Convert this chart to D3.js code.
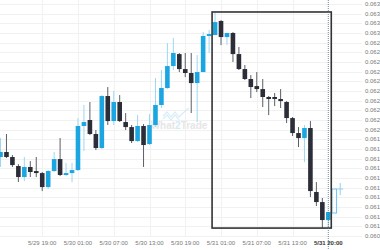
<!DOCTYPE html>
<html>
<head>
<meta charset="utf-8">
<script src="https://cdn.jsdelivr.net/npm/d3@7"></script>
<style>
  body { margin: 0; background: #fff; }
  svg { display: block; font-family: "Liberation Sans", Arial, sans-serif; }
</style>
</head>
<body>
<div id="main"></div>
<script>
const ctx = {
    w: 380,
    h: 250,
    UP: "#1ba6e2",
    UP_WICK: "#9ed6f2",
    DOWN: "#2b2e38",
    DOWN_WICK: "#5c5f66",
    GRID: "#f1f1f1",
    bodyW: 4.6,
};

// hourly candles
const opens = [0.061217, 0.061269, 0.061217, 0.061124, 0.061010, 0.061114, 0.061072, 0.061051, 0.060906, 0.061072,
    0.061196, 0.061031, 0.061051, 0.061082, 0.061538, 0.061600, 0.061455, 0.061310, 0.061848, 0.061589,
    0.061786, 0.061579, 0.061527, 0.061382, 0.061538, 0.061351, 0.061548, 0.061755, 0.061931, 0.062158,
    0.062282, 0.062127, 0.062086, 0.061982, 0.062096, 0.062469, 0.062479, 0.062624, 0.062458, 0.062500,
    0.062282, 0.062127, 0.062024, 0.061951, 0.061920, 0.061838, 0.061838, 0.061817, 0.061786, 0.061620,
    0.061465, 0.061413, 0.061517, 0.060855, 0.060751, 0.060565];
const highs = [0.061413, 0.061455, 0.061238, 0.061144, 0.061217, 0.061175, 0.061217, 0.061062, 0.061082, 0.061269,
    0.061413, 0.061155, 0.061155, 0.061620, 0.061755, 0.061786, 0.061496, 0.061858, 0.061941, 0.061900,
    0.061858, 0.061672, 0.061548, 0.061651, 0.061558, 0.061662, 0.062034, 0.062117, 0.062396, 0.062448,
    0.062293, 0.062293, 0.062293, 0.062272, 0.062510, 0.062531, 0.062707, 0.062634, 0.062500, 0.062510,
    0.062355, 0.062169, 0.062065, 0.062096, 0.062024, 0.061848, 0.061879, 0.061920, 0.061796, 0.061631,
    0.061527, 0.061548, 0.061589, 0.060958, 0.060793, 0.060648];
const lows = [0.061114, 0.061206, 0.061114, 0.060958, 0.060969, 0.061010, 0.061010, 0.060865, 0.060886, 0.061062,
    0.061020, 0.061020, 0.060958, 0.061072, 0.061279, 0.061444, 0.061289, 0.061300, 0.061548, 0.061548,
    0.061579, 0.061496, 0.061362, 0.061372, 0.061114, 0.061341, 0.061527, 0.061724, 0.061920, 0.062117,
    0.062096, 0.062044, 0.061672, 0.061579, 0.062096, 0.062293, 0.062479, 0.062375, 0.062375, 0.062200,
    0.062117, 0.062013, 0.061827, 0.061889, 0.061734, 0.061651, 0.061744, 0.061724, 0.061569, 0.061434,
    0.061320, 0.061165, 0.060803, 0.060710, 0.060482, 0.060482];
const closes = [0.061269, 0.061217, 0.061134, 0.061010, 0.061114, 0.061062, 0.061051, 0.060906, 0.061072, 0.061196,
    0.061031, 0.061051, 0.061082, 0.061538, 0.061579, 0.061455, 0.061310, 0.061848, 0.061589, 0.061786,
    0.061589, 0.061527, 0.061382, 0.061538, 0.061341, 0.061548, 0.061755, 0.061931, 0.062158, 0.062293,
    0.062127, 0.062086, 0.061982, 0.062096, 0.062469, 0.062489, 0.062613, 0.062458, 0.062500, 0.062282,
    0.062127, 0.062024, 0.061941, 0.061920, 0.061838, 0.061817, 0.061817, 0.061796, 0.061620, 0.061465,
    0.061413, 0.061517, 0.060865, 0.060751, 0.060565, 0.060648];

// forming candle and last price marker
const liveCandle = { open: 0.060638, close: 0.060886 };
const liveMarker = { high: 0.060948, low: 0.060824, value: 0.060886 };

// highlighted range (candle indices)
const boxRange = [36, 55];

const yTicks = [0.0604, 0.0605, 0.0606, 0.0607, 0.0608, 0.0609, 0.0610, 0.0611, 0.0612, 0.0613,
    0.0614, 0.0615, 0.0616, 0.0617, 0.0618, 0.0619, 0.0620, 0.0621, 0.0622, 0.0623,
    0.0624, 0.0625, 0.0626, 0.0627, 0.0628];
const yLabels = ["0.060", "0.061", "0.061", "0.061", "0.061", "0.061", "0.061", "0.061", "0.061", "0.061",
    "0.061", "0.062", "0.062", "0.062", "0.062", "0.062", "0.062", "0.062", "0.062", "0.062",
    "0.062", "0.063", "0.063", "0.063", "0.063"];

const xLabelIdx = [7, 13, 19, 25, 31, 37, 43, 49, 55];
const xLabels = ["5/29 19:00", "5/30 01:00", "5/30 07:00", "5/30 13:00", "5/30 19:00",
    "5/31 01:00", "5/31 07:00", "5/31 13:00", "5/31 20:00"];

function createViz() {
    let svgEl = d3.select("#main").append("svg")
        .attr("width", ctx.w)
        .attr("height", ctx.h);

    let x = d3.scaleLinear().domain([0, 55]).range([0.5, 328.3]);
    let step = x(1) - x(0);
    let y = d3.scaleLinear().domain([0.0604, 0.0628]).range([236, 4]);

    // grid
    let gridG = svgEl.append("g");
    gridG.selectAll("line.h")
        .data(yTicks)
        .enter()
        .append("line")
        .attr("x1", 0)
        .attr("x2", 362)
        .attr("y1", (d) => Math.round(y(d)) + 0.5)
        .attr("y2", (d) => Math.round(y(d)) + 0.5)
        .attr("stroke", ctx.GRID);
    gridG.selectAll("line.v")
        .data(xLabelIdx.slice(0, -1))
        .enter()
        .append("line")
        .attr("x1", (d) => Math.round(x(d)) + 0.5)
        .attr("x2", (d) => Math.round(x(d)) + 0.5)
        .attr("y1", 0)
        .attr("y2", 236)
        .attr("stroke", ctx.GRID);

    // watermark
    let wm = svgEl.append("g").attr("opacity", 0.9);
    wm.append("path")
        .attr("d", "M163,116 L167,112 L171,117 L175,112 L179,117 L183,113 L189,108 M163,119 L167,115 L171,120 L175,115 L179,120")
        .attr("fill", "none")
        .attr("stroke", "#d3ecf8")
        .attr("stroke-width", 1.2);
    let wmText = wm.append("text")
        .attr("x", 179)
        .attr("y", 129)
        .attr("text-anchor", "middle")
        .style("font-size", "10px")
        .style("font-weight", "bold")
        .style("fill", "#e4e4e4");
    wmText.append("tspan").text("What");
    wmText.append("tspan").style("fill", "#cfe8f5").text("2");
    wmText.append("tspan").text("Trade");

    // candles
    let candles = opens.map((o, i) => ({ i: i, o: o, h: highs[i], l: lows[i], c: closes[i] }));
    let candleG = svgEl.append("g");
    candleG.selectAll("line")
        .data(candles)
        .enter()
        .append("line")
        .attr("x1", (d) => x(d.i))
        .attr("x2", (d) => x(d.i))
        .attr("y1", (d) => y(d.h))
        .attr("y2", (d) => y(d.l))
        .attr("stroke", (d) => (d.c >= d.o ? ctx.UP_WICK : ctx.DOWN_WICK))
        .attr("stroke-width", 1);
    candleG.selectAll("rect")
        .data(candles)
        .enter()
        .append("rect")
        .attr("x", (d) => x(d.i) - ctx.bodyW / 2)
        .attr("width", ctx.bodyW)
        .attr("y", (d) => y(Math.max(d.o, d.c)))
        .attr("height", (d) => Math.max(1.2, Math.abs(y(d.o) - y(d.c))))
        .attr("fill", (d) => (d.c >= d.o ? ctx.UP : ctx.DOWN));

    // forming candle
    svgEl.append("rect")
        .attr("x", x(56) - ctx.bodyW / 2)
        .attr("width", ctx.bodyW)
        .attr("y", y(liveCandle.close))
        .attr("height", y(liveCandle.open) - y(liveCandle.close))
        .attr("fill", "none")
        .attr("stroke", "#6cc4ee")
        .attr("stroke-width", 1);
    svgEl.append("line")
        .attr("x1", x(57)).attr("x2", x(57))
        .attr("y1", y(liveMarker.high)).attr("y2", y(liveMarker.low))
        .attr("stroke", "#8fd0f0");
    svgEl.append("line")
        .attr("x1", x(57) - 3).attr("x2", x(57) + 3)
        .attr("y1", y(liveMarker.value)).attr("y2", y(liveMarker.value))
        .attr("stroke", "#8fd0f0");

    // highlight box over the range
    let sub = candles.slice(boxRange[0], boxRange[1] + 1);
    let boxTop = y(d3.max(sub, (d) => d.h));
    let boxBottom = y(d3.min(sub, (d) => d.l));
    svgEl.append("rect")
        .attr("x", x(boxRange[0]) - step / 2)
        .attr("y", boxTop - 1)
        .attr("width", x(boxRange[1]) - x(boxRange[0]) + step)
        .attr("height", boxBottom - boxTop + 1)
        .attr("fill", "none")
        .attr("stroke", "#333")
        .attr("stroke-width", 1.6);

    // current time marker
    svgEl.append("line")
        .attr("x1", x(55)).attr("x2", x(55))
        .attr("y1", 0).attr("y2", ctx.h)
        .attr("stroke", "#4f7178")
        .attr("stroke-width", 0.8)
        .attr("stroke-dasharray", "1,1");

    // y axis labels
    svgEl.append("g")
        .selectAll("text")
        .data(yTicks)
        .enter()
        .append("text")
        .attr("x", 365)
        .attr("y", (d) => y(d))
        .attr("dy", "0.35em")
        .style("font-size", "6px")
        .style("fill", "#777")
        .text((d, i) => yLabels[i]);

    // x axis labels
    svgEl.append("g")
        .selectAll("text")
        .data(xLabelIdx)
        .enter()
        .append("text")
        .attr("x", (d) => x(d))
        .attr("y", 245)
        .attr("text-anchor", "middle")
        .style("font-size", "6px")
        .style("fill", (d, i) => (i == xLabels.length - 1 ? "#333" : "#777"))
        .style("font-weight", (d, i) => (i == xLabels.length - 1 ? "bold" : "normal"))
        .text((d, i) => xLabels[i]);
}

createViz();
</script>
</body>
</html>
